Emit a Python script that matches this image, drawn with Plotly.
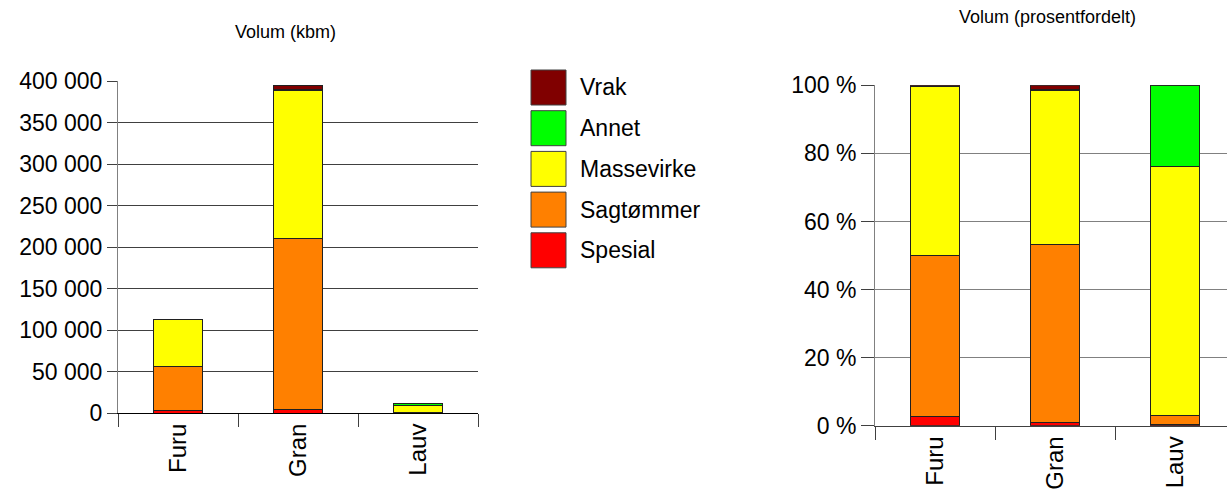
import plotly.graph_objects as go

W, H = 1227, 493

categories = ["Furu", "Gran", "Lauv"]
series_names = ["Spesial", "Sagtømmer", "Massevirke", "Annet", "Vrak"]
spesial = [3000, 4000, 40]
sagtommer = [53500, 206500, 300]
massevirke = [56000, 178000, 8300]
annet = [100, 1500, 2700]
vrak = [300, 5000, 0]
series_values = [spesial, sagtommer, massevirke, annet, vrak]
colors = ["#FF0000", "#FF8000", "#FFFF00", "#00FF00", "#800000"]

left_tickvals = [0, 50000, 100000, 150000, 200000, 250000, 300000, 350000, 400000]
left_ticktext = ["0", "50 000", "100 000", "150 000", "200 000", "250 000", "300 000", "350 000", "400 000"]
right_tickvals = [0, 20, 40, 60, 80, 100]
right_ticktext = ["0 %", "20 %", "40 %", "60 %", "80 %", "100 %"]

totals = [sum(s[i] for s in series_values) for i in range(len(categories))]
pct_values = [[v / t * 100 for v, t in zip(s, totals)] for s in series_values]

FONT = "Liberation Sans, Arial, sans-serif"
fig = go.Figure()
for name, vals, pvals, col in zip(series_names, series_values, pct_values, colors):
    fig.add_trace(go.Bar(x=categories, y=vals, name=name, marker=dict(color=col, line=dict(color="#202020", width=1)),
                         xaxis="x", yaxis="y", showlegend=False))
    fig.add_trace(go.Bar(x=categories, y=pvals, name=name, marker=dict(color=col, line=dict(color="#202020", width=1)),
                         xaxis="x2", yaxis="y2", showlegend=False))

def px(x):
    return x / W

def py(y):
    return 1 - y / H

fig.update_layout(
    width=W, height=H, margin=dict(l=0, r=0, t=0, b=0, autoexpand=False),
    barmode="stack", bargap=0.59,
    plot_bgcolor="white", paper_bgcolor="white",
    font=dict(family=FONT, color="black"),
    xaxis=dict(domain=[px(118), px(478)], range=[-0.5, 2.5], type="category",
               tickson="boundaries", ticks="outside", ticklen=13, tickcolor="#404040",
               tickangle=-90, tickfont=dict(size=24), showline=True, linecolor="#000000",
               showgrid=False, anchor="y", automargin=False),
    yaxis=dict(domain=[py(413), py(81)], range=[0, 400000], tickvals=left_tickvals, ticktext=left_ticktext,
               ticks="outside", ticklen=10, tickcolor="#404040", tickfont=dict(size=23),
               showgrid=True, gridcolor="#404040", gridwidth=1, showline=True, linecolor="#808080",
               zeroline=False, anchor="x", automargin=False),
    xaxis2=dict(domain=[px(875), 1.0], range=[-0.5, 2.433], type="category",
                tickson="boundaries", ticks="outside", ticklen=13, tickcolor="#404040",
                tickangle=-90, tickfont=dict(size=24), showline=True, linecolor="#404040",
                showgrid=False, anchor="y2", automargin=False),
    yaxis2=dict(domain=[py(425.7), py(85.3)], range=[0, 100], tickvals=right_tickvals, ticktext=right_ticktext,
                ticks="outside", ticklen=13, tickcolor="#404040", tickfont=dict(size=23),
                showgrid=True, gridcolor="#808080", gridwidth=1, showline=True, linecolor="#808080",
                zeroline=False, anchor="x2", automargin=False),
)

annotations = [
    dict(text="Volum (kbm)", x=px(285), y=py(32), xref="paper", yref="paper", showarrow=False,
         font=dict(size=18), xanchor="center", yanchor="middle"),
    dict(text="Volum (prosentfordelt)", x=px(1047), y=py(17), xref="paper", yref="paper", showarrow=False,
         font=dict(size=18), xanchor="center", yanchor="middle"),
]
shapes = []
for i, (name, col) in enumerate(reversed(list(zip(series_names, colors)))):
    top = 70 + i * 40.7
    shapes.append(dict(type="rect", xref="paper", yref="paper", x0=px(531), x1=px(566),
                       y0=py(top + 35), y1=py(top), fillcolor=col, line=dict(color="#404040", width=1)))
    annotations.append(dict(text=name, x=px(578), y=py(top + 17.5), xref="paper", yref="paper",
                            showarrow=False, xanchor="left", yanchor="middle", font=dict(size=23)))
fig.update_layout(annotations=annotations, shapes=shapes)

fig.write_html("out.html", config={"displayModeBar": False},
               post_script="document.body.style.margin='0';document.body.style.overflow='hidden';")
